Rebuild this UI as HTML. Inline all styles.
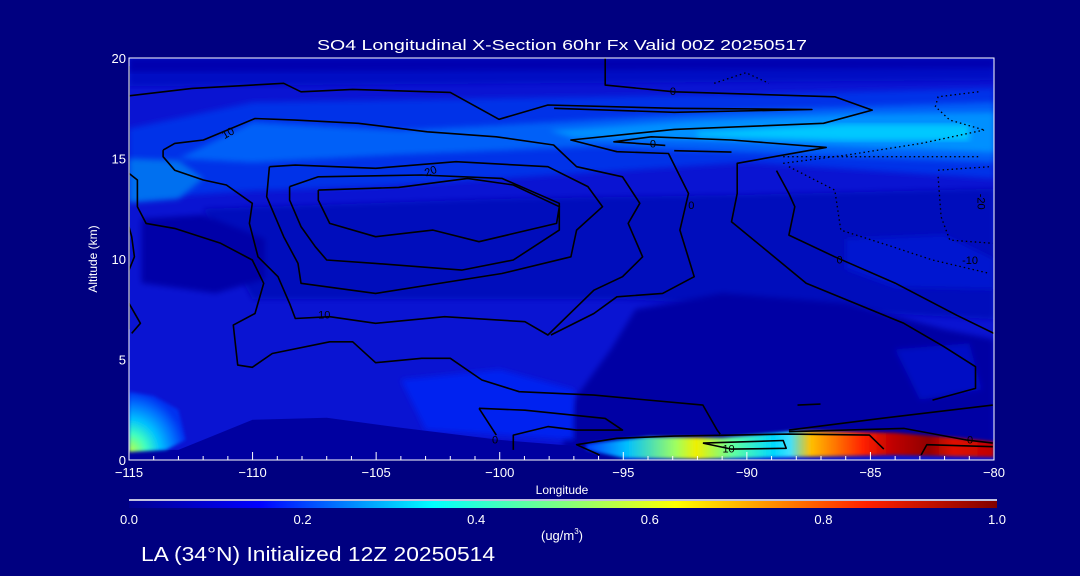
<!DOCTYPE html>
<html><head><meta charset="utf-8"><style>
html,body{margin:0;padding:0;background:#000080;}
svg{display:block;font-family:"Liberation Sans",sans-serif;}
</style></head><body>
<svg id="chart" width="1080" height="576" viewBox="0 0 1080 576" xmlns="http://www.w3.org/2000/svg">
<defs>
<linearGradient id="hot" x1="0" x2="1" y1="0" y2="0">
<stop offset="0" stop-color="#0040ff"/><stop offset="0.1" stop-color="#00c0ff"/><stop offset="0.22" stop-color="#a0ff60"/><stop offset="0.27" stop-color="#f0f000"/><stop offset="0.36" stop-color="#60ffa0"/><stop offset="0.46" stop-color="#00d8ff"/><stop offset="0.5" stop-color="#40e0ff"/><stop offset="0.55" stop-color="#ffc000"/><stop offset="0.68" stop-color="#ff2000"/><stop offset="0.75" stop-color="#c00000"/><stop offset="0.84" stop-color="#900000"/><stop offset="0.9" stop-color="#e01000"/><stop offset="1" stop-color="#c00000"/>
</linearGradient>
<radialGradient id="lefthot" cx="0" cy="1" r="1">
<stop offset="0" stop-color="#c0ff40"/><stop offset="0.3" stop-color="#40ffc0"/><stop offset="0.55" stop-color="#00c0ff"/><stop offset="0.8" stop-color="#0070ff"/><stop offset="1" stop-color="#0030f0"/>
</radialGradient>
<linearGradient id="cbar" x1="0" x2="1">
<stop offset="0" stop-color="#000090"/><stop offset="0.15" stop-color="#0000ff"/><stop offset="0.35" stop-color="#00ffff"/><stop offset="0.5" stop-color="#80ff80"/><stop offset="0.63" stop-color="#ffff00"/><stop offset="0.85" stop-color="#ff2000"/><stop offset="1" stop-color="#800000"/>
</linearGradient>
<filter id="soft"><feGaussianBlur stdDeviation="3"/></filter>
<filter id="soft2"><feGaussianBlur stdDeviation="1.5"/></filter>
<clipPath id="plotclip"><rect x="129" y="58" width="865" height="402"/></clipPath>
</defs>
<text x="562" y="50" fill="#fff" font-size="15" text-anchor="middle" textLength="490" lengthAdjust="spacingAndGlyphs">SO4 Longitudinal X-Section 60hr  Fx Valid 00Z 20250517</text>
<g id="fills" clip-path="url(#plotclip)"></g>
<g id="contours" clip-path="url(#plotclip)"></g>
<g id="axes"></g>
<text x="562" y="494" fill="#fff" font-size="12" text-anchor="middle">Longitude</text>
<text x="0" y="0" fill="#fff" font-size="12" text-anchor="middle" transform="translate(97,259) rotate(-90)">Altitude (km)</text>
<line x1="129" y1="500" x2="997" y2="500" stroke="#fff" stroke-width="1.5"/>
<rect x="129" y="501" width="868" height="7" fill="url(#cbar)"/>
<g id="cbticks"></g>
<text x="562" y="540" fill="#fff" font-size="13" text-anchor="middle">(ug/m<tspan font-size="8" dy="-6">3</tspan><tspan dy="6">)</tspan></text>
<text x="141" y="561" fill="#fff" font-size="20" textLength="354" lengthAdjust="spacingAndGlyphs">LA (34°N) Initialized 12Z 20250514</text>
</svg>
<script>
const xTicks=[-115,-110,-105,-100,-95,-90,-85,-80];
const yTicks=[0,5,10,15,20];
const cbTicks=["0.0","0.2","0.4","0.6","0.8","1.0"];
// fill regions (lon, alt)
const fillBase=[[-115,0],[-80,0],[-80,20],[-115,20]];
const fillTop1=[[-115,18.6],[-80,18.9],[-80,20],[-115,20]];
const fillTop2=[[-115,19.3],[-80,19.5],[-80,20],[-115,20]];
const fillBand1=[[-115,16.5],[-110,17.8],[-100,18],[-90,18.2],[-80,18.5],[-80,14],[-90,14.8],[-100,14],[-105,13.6],[-110,13.4],[-115,13]];
const fillBand2=[[-113,15],[-110,16.8],[-104,16.4],[-98,16.8],[-90,17.4],[-80,17.8],[-80,14.8],[-88,15.2],[-96,15.6],[-104,15.2],[-110,14.8]];
const fillBand3=[[-98,16.4],[-92,16.9],[-86,17.2],[-80,17.3],[-80,15.3],[-86,15.6],[-92,15.9],[-97,16]];
const fillBand4=[[-92,16.3],[-86,16.7],[-81,16.7],[-81,15.9],[-86,15.9],[-92,16.1]];
const fillLeft=[[-115,15],[-113,14.9],[-112,14],[-113,13],[-115,12.8]];
const fillMidDark=[[-112,12.5],[-100,13],[-90,13.2],[-80,13.5],[-80,7],[-95,8],[-110,8]];
const fillLeftBlob=[[-114.5,12],[-112,12.2],[-109.5,11],[-109.5,9],[-111.5,8.3],[-114.5,8.8]];
const fillDarkRight=[[-97.5,0.5],[-97,3],[-95.5,5.5],[-94.5,7.5],[-91,8.3],[-86,7.8],[-82,6.5],[-80,6],[-80,0.5]];
const fillBlobR1=[[-84,5.5],[-81,5.8],[-80.5,3.5],[-83,3]];
const fillBlobR2=[[-86,11],[-82,11.2],[-80,10],[-80,8.5],[-84,8.6],[-86,9.5]];
const fillMidBright=[[-104,4],[-100,4.5],[-97,3.5],[-97,1],[-103,1.5]];
const fillTerrain=[[-115,0.5],[-113,0.5],[-112,1],[-110,2],[-107,2.1],[-104,1.6],[-100,1],[-97,0.7],[-95,0.3],[-95,0],[-115,0]];
const fillLeftHot=[[-115,3.4],[-114,3.2],[-113,2.5],[-112.7,1],[-113.5,0.5],[-115,0.4]];
const fillHot=[[-96.5,0.8],[-94,1.15],[-91,1.1],[-88,1.45],[-84,1.35],[-81.5,1.1],[-80,0.9],[-80,0.15],[-84,0.25],[-92,0.05],[-95,0.1],[-96.5,0.5]];
const fillLayers=[
 [fillBase,"#0a14d2",null],[fillTop1,"#0010c4","soft"],[fillTop2,"#0006b0","soft"],
 [fillMidDark,"#0008bc","soft"],[fillBand1,"#0030e8","soft"],[fillBand2,"#0060f8","soft"],
 [fillBand3,"#0090ff","soft"],[fillBand4,"#00c8ff","soft"],[fillLeft,"#0070f0","soft"],
 [fillLeftBlob,"#0000a8","soft"],[fillDarkRight,"#0000a4","soft"],[fillBlobR1,"#0010c4","soft"],
 [fillBlobR2,"#0014d0","soft"],[fillMidBright,"#0020f0","soft"],[fillTerrain,"#0000a0",null],
 [fillLeftHot,"url(#lefthot)","soft2"],[fillHot,"url(#hot)","soft2"]
];
// contours
const c0a=[[-115,18.12],[-112.45,18.49],[-108.74,18.74],[-108.04,18.32],[-105.95,18.44],[-102,18.29],[-100.03,16.95],[-98.05,17.66],[-92.94,17.5],[-87.37,17.44],[-92.94,17.3],[-97.8,17.5]];
const c0b=[[-95.73,19.98],[-95.73,18.65],[-92.94,18.32],[-86.44,18.07],[-84.93,17.41],[-86.9,16.75],[-92.94,16.45],[-97.12,15.92],[-95.26,15.34],[-93.17,15.25],[-92.36,13.26],[-92.71,11.44],[-92.13,9.12],[-93.41,8.29],[-95.26,8.12],[-96.19,7.29],[-97.93,6.22]];
const c0c=[[-93.3,15.65],[-95.38,15.83],[-93.87,16.08],[-90.62,15.92],[-86.79,15.55],[-90.39,14.76],[-90.39,13.26],[-90.62,11.85],[-89.23,10.45],[-87.6,8.79],[-83.65,6.8],[-82.03,5.64],[-80.75,4.64],[-80.75,3.56],[-82.49,2.98]];
const c0d=[[-88.8,14.4],[-88.3,13.26],[-88.06,12.6],[-88.3,11.19],[-86.44,10.11],[-84,8.8],[-81.5,7.2],[-80,6.3]];
const c0e=[[-92.94,15.39],[-90.62,15.32]];
const c10a=[[-113.62,15.42],[-113.15,15.75],[-111.99,15.92],[-109.9,16.99],[-108.27,16.91],[-105.72,16.75],[-102.93,16.33],[-100.14,16.08],[-97.82,15.67],[-96.89,14.59],[-95.03,14.09],[-94.33,12.77],[-94.8,11.77],[-94.22,10.11],[-95.03,9.12],[-96.19,8.45],[-98.05,6.22],[-98.98,6.88],[-102.23,7.13],[-105.02,6.8],[-106.88,7.13],[-108.27,7.04],[-108.5,7.79],[-108.97,9.12],[-109.78,10.11],[-110.13,11.77],[-110.01,12.77],[-111.06,13.68],[-111.99,13.93],[-113.15,14.42],[-113.62,15.09],[-113.62,15.42]];
const c20a=[[-109.32,14.59],[-108.27,14.67],[-105.02,14.51],[-101.77,14.84],[-98.05,14.59],[-96.43,13.6],[-95.84,12.6],[-96.89,11.44],[-97.12,10.11],[-99.91,9.28],[-105.02,8.29],[-108.04,8.79],[-108.16,9.78],[-108.74,11.11],[-109.43,13.1],[-109.32,14.59]];
const c20b=[[-108.5,13.6],[-107.34,14.09],[-103.16,14.18],[-99.91,14.01],[-97.59,12.77],[-97.59,11.44],[-99.45,9.95],[-101.54,9.45],[-105.02,9.78],[-107,9.95],[-107.46,10.61],[-108.04,11.61],[-108.5,12.93],[-108.5,13.6]];
const c30=[[-107.34,13.43],[-104.09,13.56],[-101.3,14.01],[-99.45,13.68],[-97.59,12.6],[-97.7,11.77],[-100.84,10.86],[-102.7,11.44],[-105.02,11.11],[-106.88,11.77],[-107.34,12.93],[-107.34,13.43]];
const c10b=[[-115,14.26],[-114.66,13.93],[-114.66,12.6],[-114.31,11.77],[-113.15,11.52],[-111.29,10.78],[-110.01,9.95],[-109.55,8.79],[-109.9,7.29],[-110.78,6.71],[-110.6,4.72],[-110.01,4.61],[-109.2,5.3],[-106.88,5.88],[-105.95,5.88],[-105.02,4.84],[-103.16,5.06],[-102,5.06],[-100.72,3.98],[-99.21,3.4],[-96.19,3.23],[-91.78,2.73],[-91.2,1.49],[-91.08,1.29]];
const cLeft1=[[-115,11.6],[-114.89,11.11],[-114.78,10.11],[-115,9.45]];
const cLeft2=[[-115,7.79],[-114.54,6.8],[-114.89,6.3]];
const cLeftEdge=[[-115,19.6],[-115,6.5]];
const cb1=[[-100.84,2.57],[-98.98,2.48],[-95.73,2.07],[-95.03,1.49],[-96.89,1.49],[-98.05,1.66],[-99.45,1.24],[-99.45,0.5]];
const cb2=[[-100.84,2.57],[-100.14,1.24]];
const cb3=[[-95.96,0.25],[-96.89,0.76],[-95.26,1.08],[-92.94,1.19],[-88.3,1.29],[-85.04,1.24],[-84.46,0.54]];
const cb4=[[-91.78,0.84],[-88.53,0.97],[-88.41,0.58],[-90.62,0.54],[-91.78,0.84]];
const cb5=[[-88.3,1.41],[-83.65,1.57],[-81.09,0.99],[-80.05,0.84]];
const cb6=[[-82.95,0.25],[-82.72,0.76],[-80.05,0.66]];
const cb7=[[-88.3,1.49],[-84.58,2.07],[-81.79,2.48],[-80.05,2.73]];
const cb8=[[-87.95,2.73],[-87.02,2.78]];
const solidContours=[c0a,c0b,c0c,c0d,c0e,c10a,c20a,c20b,c30,c10b,cLeft1,cLeft2,cLeftEdge,cb1,cb2,cb3,cb4,cb5,cb6,cb7,cb8];
const dTri=[[-91.32,18.74],[-90.04,19.27],[-89.11,18.74]];
const d1=[[-80.63,18.32],[-82.26,18.07],[-82.37,17.58],[-81.79,16.91],[-80.4,16.42]];
const d2=[[-88.53,14.76],[-85.97,15.17],[-82.95,15.75],[-80.4,16.42]];
const d3=[[-88.53,15.09],[-80.63,15.09]];
const d4=[[-88.3,14.59],[-86.44,13.43],[-86.2,11.44],[-84.11,10.61],[-82.49,9.95],[-80.16,9.28]];
const d5=[[-82.26,14.42],[-80.16,14.59]];
const d6=[[-82.26,14.09],[-82.14,12.1],[-81.79,10.94],[-80.05,10.78]];
const dottedContours=[dTri,d1,d2,d3,d4,d5,d6];
const labelPos=[[-92.99,18.37],[-93.8,15.75],[-111.0,16.28],[-102.8,14.39],[-107.1,7.24],[-92.25,12.68],[-86.25,9.98],[-90.74,0.58],[-80.97,1.03],[-100.19,1.03],[-80.97,9.95],[-80.51,12.85]];
const labelText=["0","0","10","20","10","0","0","10","0","0","-10","-20"];
const labelRot=[0,0,-30,-20,0,0,0,0,0,0,0,90];

const NS="http://www.w3.org/2000/svg";
const X0=129,X1=994,Y0=460,Y1=58;
function sx(lon){return X0+(lon+115)/35*(X1-X0);}
function sy(alt){return Y0-alt/20*(Y0-Y1);}
function pts(a){return a.map(p=>sx(p[0]).toFixed(1)+","+sy(p[1]).toFixed(1)).join(" ");}
function mk(tag,attrs,parent){const e=document.createElementNS(NS,tag);for(const k in attrs)e.setAttribute(k,attrs[k]);parent.appendChild(e);return e;}

const fills=document.getElementById("fills");
fillLayers.forEach((f,i)=>{
 const e=mk("polygon",{points:pts(f[0]),fill:f[1]},fills);
 if(f[2])e.setAttribute("filter","url(#"+f[2]+")");
 
 
});
const cg=document.getElementById("contours");
solidContours.forEach(c=>{
 const e=mk("polyline",{points:pts(c),fill:"none",stroke:"#000","stroke-width":"1.6","stroke-linejoin":"round"},cg);
 
 
});
dottedContours.forEach(c=>{
 const e=mk("polyline",{points:pts(c),fill:"none",stroke:"#000","stroke-width":"1.3","stroke-dasharray":"1.5,3"},cg);
 
 
});
labelPos.forEach((p,i)=>{
 const x=sx(p[0]),y=sy(p[1]);
 const t=mk("text",{x:x,y:y+4,"font-size":"11",fill:"#000","text-anchor":"middle",transform:"rotate("+labelRot[i]+" "+x+" "+y+")"},cg);
 t.textContent=labelText[i];
 
 
});
const ax=document.getElementById("axes");
const frame=mk("rect",{x:X0,y:Y1,width:X1-X0,height:Y0-Y1,fill:"none",stroke:"#fff","stroke-width":"1"},ax);


for(let l=-115;l<=-80;l++){
 const major=(l%5===0);
 const t=mk("line",{x1:sx(l),x2:sx(l),y1:Y0,y2:Y0-(major?8:4),stroke:"#fff","stroke-width":"1"},ax);
 
 
}
xTicks.forEach(v=>{
 const t=mk("text",{x:sx(v),y:Y0+17,fill:"#fff","font-size":"13","text-anchor":"middle"},ax);
 t.textContent=(v<0?"\u2212"+(-v):String(v));
 
 
});
yTicks.forEach(v=>{
 const t=mk("text",{x:X0-3,y:sy(v)+5,fill:"#fff","font-size":"13","text-anchor":"end"},ax);
 t.textContent=String(v);
 
 
});
const cb=document.getElementById("cbticks");
cbTicks.forEach((v,i)=>{
 const t=mk("text",{x:129+i*(997-129)/5,y:524,fill:"#fff","font-size":"13","text-anchor":"middle"},cb);
 t.textContent=v;
 
 
});
</script>
</body></html>
